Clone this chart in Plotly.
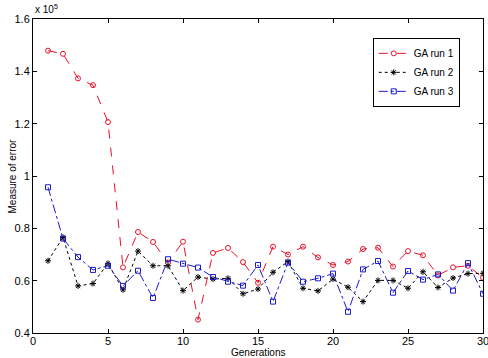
import plotly.graph_objects as go

generations = list(range(1, 31))
ga_run1 = [1.479, 1.467, 1.373, 1.347, 1.206, 0.651, 0.786, 0.748, 0.669, 0.749,
           0.451, 0.706, 0.725, 0.671, 0.592, 0.730, 0.700, 0.730, 0.689, 0.660,
           0.673, 0.721, 0.726, 0.654, 0.713, 0.697, 0.620, 0.651, 0.657, 0.611]
ga_run2 = [0.676, 0.765, 0.580, 0.589, 0.666, 0.565, 0.713, 0.657, 0.657, 0.562,
           0.614, 0.606, 0.609, 0.550, 0.568, 0.632, 0.673, 0.571, 0.561, 0.606,
           0.575, 0.520, 0.601, 0.601, 0.571, 0.634, 0.574, 0.610, 0.627, 0.628]
ga_run3 = [0.957, 0.761, 0.690, 0.641, 0.657, 0.580, 0.638, 0.534, 0.682, 0.665,
           0.650, 0.614, 0.596, 0.581, 0.660, 0.520, 0.669, 0.596, 0.609, 0.627,
           0.481, 0.643, 0.675, 0.554, 0.637, 0.604, 0.624, 0.562, 0.667, 0.550]

x_ticks = [0, 5, 10, 15, 20, 25, 30]
y_ticks = [0.4, 0.6, 0.8, 1.0, 1.2, 1.4, 1.6]
y_tick_labels = ["0.4", "0.6", "0.8", "1", "1.2", "1.4", "1.6"]

font = "Liberation Sans, Arial, sans-serif"

fig = go.Figure()
fig.add_trace(go.Scatter(x=generations, y=ga_run1, name="GA run 1", mode="lines+markers",
                         line=dict(color="#e8102a", dash="dash", width=1),
                         marker=dict(symbol="circle-open", size=5, color="#e8102a", line=dict(width=1))))
fig.add_trace(go.Scatter(x=generations, y=ga_run2, name="GA run 2", mode="lines+markers",
                         line=dict(color="#000000", dash="dot", width=1),
                         marker=dict(symbol="asterisk-open", size=5, color="#000000", line=dict(width=1))))
fig.add_trace(go.Scatter(x=generations, y=ga_run3, name="GA run 3", mode="lines+markers",
                         line=dict(color="#1a1acc", dash="dashdot", width=1),
                         marker=dict(symbol="square-open", size=5, color="#1a1acc", line=dict(width=1))))

axis_common = dict(showgrid=False, zeroline=False, showline=True, linecolor="#000000", linewidth=1,
                   mirror="ticks", ticks="inside", ticklen=4, tickcolor="#000000",
                   ticklabeloverflow="allow", automargin=False,
                   tickfont=dict(family=font, size=11, color="#000000"))

fig.update_layout(
    width=488, height=358,
    margin=dict(l=33, r=5, t=19, b=25, autoexpand=False),
    paper_bgcolor="white", plot_bgcolor="white",
    font=dict(family=font, size=11, color="#000000"),
    xaxis=dict(range=[0, 30], tickvals=x_ticks, ticklabelstandoff=-2, **axis_common),
    yaxis=dict(range=[0.4, 1.6], tickvals=y_ticks, ticktext=y_tick_labels, **axis_common),
    showlegend=True,
    legend=dict(x=0.755, y=0.94, xanchor="left", yanchor="top", bgcolor="white",
                bordercolor="#000000", borderwidth=1, font=dict(family=font, size=10),
                tracegroupgap=0, itemwidth=30),
    annotations=[
        dict(text="x 10<sup>5</sup>", x=0, y=1.0, xref="paper", yref="paper", xanchor="left",
             yanchor="bottom", yshift=2, showarrow=False, font=dict(family=font, size=10)),
        dict(text="Measure of error", x=0, y=0.5, xref="paper", yref="paper", xanchor="right",
             yanchor="middle", xshift=-14, textangle=-90, showarrow=False, font=dict(family=font, size=10)),
        dict(text="Generations", x=0.5, y=0, xref="paper", yref="paper", xanchor="center",
             yanchor="top", yshift=-12, showarrow=False, font=dict(family=font, size=10)),
    ],
)

fig.write_html("out.html")
